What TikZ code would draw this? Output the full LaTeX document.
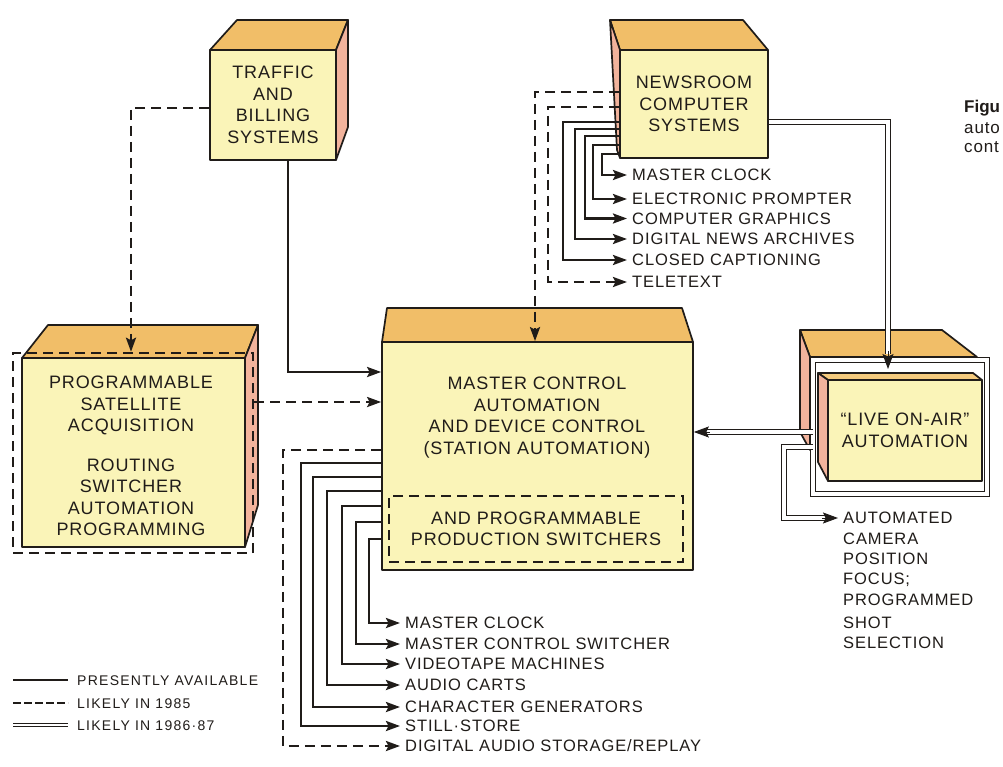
\documentclass[tikz,border=0pt]{standalone}
\usepackage{fontspec}
\setmainfont{Liberation Sans}
\newfontfamily\trackfont[LetterSpace=5]{Liberation Sans}
\newfontfamily\itemfont[LetterSpace=5.5]{Liberation Sans}
\newfontfamily\legfont[LetterSpace=9]{Liberation Sans}
\usetikzlibrary{arrows.meta,calc}
\definecolor{ink}{HTML}{201C19}
\definecolor{frontc}{HTML}{FAF4B8}
\definecolor{topc}{HTML}{F1BE68}
\definecolor{topl}{HTML}{F5CB7E}
\definecolor{sidec}{HTML}{F2B39C}
\tikzset{
  edge/.style={draw=ink, line width=1.7pt, line join=round},
  front/.style={edge, fill=frontc, inner sep=0pt, text=ink, align=center,
     font=\trackfont\fontsize{18}{21.5}\selectfont},
  boxtxt/.style={inner sep=0pt, text=ink, align=center,
     font=\trackfont\fontsize{18}{21.5}\selectfont},
  topface/.style={edge, fill=topc},
  sideface/.style={edge, fill=sidec},
  solidc/.style={draw=ink, line width=2.5pt},
  dashc/.style={draw=ink, line width=2.5pt, dash pattern=on 10pt off 6pt},
  dblc/.style={draw=ink, line width=1.5pt, double=white, double distance=3.6pt},
  tip/.style={-{Stealth[length=14pt,width=10pt,inset=2.5pt]}},
  dbltip/.style={draw=ink, line width=1pt, -{Stealth[length=15pt,width=11pt,inset=2.5pt]}},
  item/.style={anchor=west, inner xsep=5pt, inner ysep=0pt, text=ink,
     text height=11.8pt, text depth=0pt,
     font=\itemfont\fontsize{16.5}{19}\selectfont},
  legend/.style={anchor=west, inner xsep=9pt, inner ysep=0pt, text=ink,
     text height=10pt, text depth=0pt,
     font=\legfont\fontsize{14}{17}\selectfont},
  figtxt/.style={anchor=west, inner sep=0pt, text=ink, font=\trackfont\fontsize{17}{20}\selectfont},
}
\begin{document}
\begin{tikzpicture}[x=1pt,y=-1pt]
\fill[white] (0,0) rectangle (1003,767);
\useasboundingbox (0,0) rectangle (1003,767);

% ---------- TRAFFIC box
\filldraw[topface] (210,50) -- (237,20) -- (348,20) -- (336,50) -- cycle;
\filldraw[sideface] (336,50) -- (348,20) -- (348,127) -- (336,160) -- cycle;
\node[front, minimum width=126pt, minimum height=110pt] (traffic) at (273,105)
  {TRAFFIC\\AND\\BILLING\\SYSTEMS};

% ---------- NEWSROOM box
\filldraw[topface] (620,50) -- (610,20) -- (743,20) -- (768,50) -- cycle;
\filldraw[sideface] (610,20) -- (620,50) -- (620,158) -- (617,150) -- cycle;
\node[front, minimum width=148pt, minimum height=108pt] (news) at (694,104)
  {NEWSROOM\\COMPUTER\\SYSTEMS};

% ---------- SATELLITE box
\filldraw[topface] (22,358) -- (48,325) -- (258,325) -- (245,358) -- cycle;
\filldraw[sideface] (245,358) -- (258,325) -- (258,505) -- (245,547) -- cycle;
\node[front, minimum width=223pt, minimum height=189pt] (sat) at (133.5,452.5) {};
\node[boxtxt] (sattext) at (131,456)
  {PROGRAMMABLE\\SATELLITE\\ACQUISITION\\[18pt]ROUTING\\SWITCHER\\AUTOMATION\\PROGRAMMING};
\node[draw=ink, line width=2.5pt, dash pattern=on 10pt off 6pt, minimum width=240pt,
  minimum height=200pt, inner sep=0pt] (satframe) at (133,453) {};

% ---------- MAIN box
\filldraw[topface] (382,342) -- (387,308) -- (682,308) -- (693,342) -- cycle;
\node[front, minimum width=311pt, minimum height=228pt] (main) at (537.5,456) {};
\node[boxtxt] (maintext) at (537,417.5)
  {MASTER CONTROL\\AUTOMATION\\AND DEVICE CONTROL\\(STATION AUTOMATION)};
\node[boxtxt, draw=ink, line width=1.9pt, dash pattern=on 10pt off 6pt,
  minimum width=294pt, minimum height=66pt] (prod) at (536,529)
  {AND PROGRAMMABLE\\PRODUCTION SWITCHERS};

% ---------- LIVE ON-AIR box
\filldraw[topface] (800,330) -- (942,330) -- (977,357) -- (810,357) -- cycle;
\filldraw[sideface] (800,330) -- (810,357) -- (810,450) -- (800,432) -- cycle;
\node[dblc, fill=white, minimum width=174pt, minimum height=134pt, inner sep=0pt]
  (liveframe) at (900,427) {};
\filldraw[edge, fill=topl] (818,373) -- (973,373) -- (982,380) -- (828,380) -- cycle;
\filldraw[sideface] (818,373) -- (828,380) -- (828,481) -- (818,462) -- cycle;
\node[front, minimum width=154pt, minimum height=101pt] (live) at (905,430.5)
  {“LIVE ON-AIR”\\AUTOMATION};

% ---------- text items, newsroom
\node[item] (n1) at (627,175) {MASTER CLOCK};
\node[item] (n2) at (627,199) {ELECTRONIC PROMPTER};
\node[item] (n3) at (627,218.5) {COMPUTER GRAPHICS};
\node[item] (n4) at (627,239) {DIGITAL NEWS ARCHIVES};
\node[item] (n5) at (627,260) {CLOSED CAPTIONING};
\node[item] (n6) at (627,282) {TELETEXT};

% ---------- text items, master control
\node[item] (m1) at (400,623) {MASTER CLOCK};
\node[item] (m2) at (400,644) {MASTER CONTROL SWITCHER};
\node[item] (m3) at (400,664) {VIDEOTAPE MACHINES};
\node[item] (m4) at (400,685) {AUDIO CARTS};
\node[item] (m5) at (400,707) {CHARACTER GENERATORS};
\node[item] (m6) at (400,726) {STILL·STORE};
\node[item] (m7) at (400,746) {DIGITAL AUDIO STORAGE/REPLAY};

% ---------- camera items
\node[item] (c1) at (838,518) {AUTOMATED};
\node[item] (c2) at (838,538.5) {CAMERA};
\node[item] (c3) at (838,558.5) {POSITION};
\node[item] (c4) at (838,579) {FOCUS;};
\node[item] (c5) at (838,600) {PROGRAMMED};
\node[item] (c6) at (838,622.5) {SHOT};
\node[item] (c7) at (838,643) {SELECTION};

% ---------- connectors: traffic
\draw[dashc,tip] (traffic.west |- 0,108) -| (satframe.north -| 131,0);
\draw[solidc,tip] (traffic.south -| 288,0) |- (main.west |- 0,372);
\draw[dashc,tip] (satframe.east |- 0,402) -- (main.west |- 0,402);

% ---------- connectors: newsroom
\draw[dashc,tip] (news.west |- 0,92) -| (main.north -| 535,0);
\draw[dashc,tip] (news.west |- 0,107) -| (n6.west -| 548,0) -- (n6.west);
\draw[solidc,tip] (news.west |- 0,122) -| (n5.west -| 563,0) -- (n5.west);
\draw[solidc,tip] (news.west |- 0,129) -| (n4.west -| 575,0) -- (n4.west);
\draw[solidc,tip] (news.west |- 0,136) -| (n3.west -| 585,0) -- (n3.west);
\draw[solidc,tip] (news.west |- 0,145) -| (n2.west -| 593,0) -- (n2.west);
\draw[solidc,tip] (news.west |- 0,154) -| (n1.west -| 602,0) -- (n1.west);

% ---------- connectors: master control
\draw[dashc,tip] (main.west |- 0,450) -| (m7.west -| 283,0) -- (m7.west);
\draw[solidc,tip] (main.west |- 0,463) -| (m6.west -| 301,0) -- (m6.west);
\draw[solidc,tip] (main.west |- 0,477) -| (m5.west -| 313,0) -- (m5.west);
\draw[solidc,tip] (main.west |- 0,491) -| (m4.west -| 327,0) -- (m4.west);
\draw[solidc,tip] (main.west |- 0,506) -| (m3.west -| 342,0) -- (m3.west);
\draw[solidc,tip] (main.west |- 0,522) -| (m2.west -| 356,0) -- (m2.west);
\draw[solidc,tip] (main.west |- 0,539) -| (m1.west -| 369,0) -- (m1.west);

% ---------- double connectors
\coordinate (nwturn) at (888,122);
\coordinate (livetip) at (888,369);
\draw[dblc] (news.east |- nwturn) -- (nwturn) -- ($(livetip)+(0,-15)$);
\draw[dbltip] ($(livetip)+(0,-18)$) -- (livetip);

\coordinate (lfl) at (813,432);
\draw[dblc] (lfl) -- ($(main.east |- lfl)+(12,0)$);
\draw[dbltip] ($(main.east |- lfl)+(16,0)$) -- (main.east |- lfl);

\coordinate (lfc) at (813,447);
\coordinate (camturn) at (784,447);
\draw[dblc] (lfc) -- (camturn) -- (camturn |- c1.west) -- ($(c1.west)+(-12,0)$);
\draw[dbltip] ($(c1.west)+(-16,0)$) -- (c1.west);

% ---------- legend
\node[legend] (l1) at (68,680) {PRESENTLY AVAILABLE};
\node[legend] (l2) at (68,703) {LIKELY IN 1985};
\node[legend] (l3) at (68,725) {LIKELY IN 1986·87};
\draw[solidc] ($(l1.west)+(-55,0)$) -- (l1.west);
\draw[draw=ink, line width=2.2pt, dash pattern=on 8pt off 3pt] ($(l2.west)+(-55,0)$) -- (l2.west);
\draw[draw=ink, line width=1.1pt, double=white, double distance=2.6pt] ($(l3.west)+(-55,0)$) -- (l3.west);

% ---------- caption fragments
\node[figtxt, font=\bfseries\fontsize{17}{20}\selectfont] (fig1) at (964,108) {Figu};
\node[figtxt] (fig2) at (964,128) {auto};
\node[figtxt] (fig3) at (964,147) {cont};
\end{tikzpicture}
\end{document}
